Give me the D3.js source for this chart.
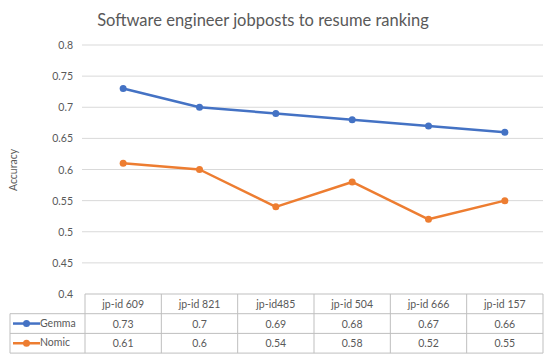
<!DOCTYPE html>
<html>
<head>
<meta charset="utf-8">
<script src="https://cdn.jsdelivr.net/npm/d3@7"></script>
<style>
  body { margin: 0; background: #fff; }
  text { font-family: Lato, "Open Sans", sans-serif; }
</style>
</head>
<body>
<div id="chart"></div>
<script>
// Data

let categories = ['jp-id 609', 'jp-id 821', 'jp-id485', 'jp-id 504', 'jp-id 666', 'jp-id 157'];
let gemma = [0.73, 0.7, 0.69, 0.68, 0.67, 0.66];
let nomic = [0.61, 0.6, 0.54, 0.58, 0.52, 0.55];
let y_ticks = [0.4, 0.45, 0.5, 0.55, 0.6, 0.65, 0.7, 0.75, 0.8];

let series = [
    { name: 'Gemma', values: gemma, color: '#4472C4' },
    { name: 'Nomic', values: nomic, color: '#ED7D31' }
];

// Canvas

let chart_w = 550;
let chart_h = 357;
let m_left = 85, m_right = 543, m_top = 45, m_bottom = 294;
let row_h = 19.7;

let svg = d3.select('#chart')
    .append('svg')
    .attr('width', chart_w)
    .attr('height', chart_h);

// Scales

let x = d3.scaleBand()
    .domain(categories)
    .range([m_left, m_right]);

let y = d3.scaleLinear()
    .domain([0.4, 0.8])
    .range([m_bottom, m_top]);

// Title

svg.append('text')
    .attr('x', 263)
    .attr('y', 26)
    .attr('text-anchor', 'middle')
    .attr('font-size', 16.5)
    .attr('fill', '#595959')
    .text('Software engineer jobposts to resume ranking');

// Gridlines + y labels

svg.selectAll('.grid')
    .data(y_ticks.slice(1))
    .enter()
    .append('line')
    .attr('x1', 82)
    .attr('x2', m_right)
    .attr('y1', d => y(d))
    .attr('y2', d => y(d))
    .attr('stroke', '#d9d9d9')
    .attr('stroke-width', 1);

svg.selectAll('.ylab')
    .data(y_ticks)
    .enter()
    .append('text')
    .attr('x', 73)
    .attr('y', d => y(d) + 4)
    .attr('text-anchor', 'end')
    .attr('font-size', 10.5)
    .attr('fill', '#595959')
    .text(d => d);

svg.append('text')
    .attr('transform', 'translate(17,170) rotate(-90)')
    .attr('text-anchor', 'middle')
    .attr('font-size', 10.5)
    .attr('fill', '#595959')
    .text('Accuracy');

// Lines and markers

let line = d3.line()
    .x((d, i) => x(categories[i]) + x.bandwidth() / 2)
    .y(d => y(d));

series.forEach(s => {
    svg.append('path')
        .datum(s.values)
        .attr('d', line)
        .attr('fill', 'none')
        .attr('stroke', s.color)
        .attr('stroke-width', 2.5)
        .attr('stroke-linejoin', 'round');

    svg.selectAll(null)
        .data(s.values)
        .enter()
        .append('circle')
        .attr('cx', (d, i) => x(categories[i]) + x.bandwidth() / 2)
        .attr('cy', d => y(d))
        .attr('r', 3.5)
        .attr('fill', s.color);
});

// Data table

let tcolor = '#bfbfbf';
let t_bottom = m_bottom + row_h * 3;

// horizontal lines
[m_bottom].forEach(yy => {
    svg.append('line')
        .attr('x1', m_left).attr('x2', m_right)
        .attr('y1', yy).attr('y2', yy)
        .attr('stroke', tcolor);
});
[m_bottom + row_h, m_bottom + row_h * 2, t_bottom].forEach(yy => {
    svg.append('line')
        .attr('x1', 10).attr('x2', m_right)
        .attr('y1', yy).attr('y2', yy)
        .attr('stroke', tcolor);
});
// vertical lines
categories.forEach(c => {
    svg.append('line')
        .attr('x1', x(c)).attr('x2', x(c))
        .attr('y1', m_bottom).attr('y2', t_bottom)
        .attr('stroke', tcolor);
});
svg.append('line')
    .attr('x1', m_right).attr('x2', m_right)
    .attr('y1', m_bottom).attr('y2', t_bottom)
    .attr('stroke', tcolor);
svg.append('line')
    .attr('x1', 10).attr('x2', 10)
    .attr('y1', m_bottom + row_h).attr('y2', t_bottom)
    .attr('stroke', tcolor);

// header labels
svg.selectAll('.hdr')
    .data(categories)
    .enter()
    .append('text')
    .attr('x', d => x(d) + x.bandwidth() / 2)
    .attr('y', m_bottom + row_h / 2 + 4)
    .attr('text-anchor', 'middle')
    .attr('font-size', 10.5)
    .attr('fill', '#595959')
    .text(d => d);

// series rows
series.forEach((s, k) => {
    let ry = m_bottom + row_h * (k + 1);
    svg.append('line')
        .attr('x1', 13).attr('x2', 40)
        .attr('y1', ry + row_h / 2).attr('y2', ry + row_h / 2)
        .attr('stroke', s.color)
        .attr('stroke-width', 2.5);
    svg.append('circle')
        .attr('cx', 26.5).attr('cy', ry + row_h / 2)
        .attr('r', 3.5)
        .attr('fill', s.color);
    svg.append('text')
        .attr('x', 40)
        .attr('y', ry + row_h / 2 + 3)
        .attr('font-size', 10.5)
        .attr('fill', '#595959')
        .text(s.name);
    svg.selectAll(null)
        .data(s.values)
        .enter()
        .append('text')
        .attr('x', (d, i) => x(categories[i]) + x.bandwidth() / 2)
        .attr('y', ry + row_h / 2 + 4)
        .attr('text-anchor', 'middle')
        .attr('font-size', 10.5)
        .attr('fill', '#595959')
        .text(d => d);
});
</script>
</body>
</html>
